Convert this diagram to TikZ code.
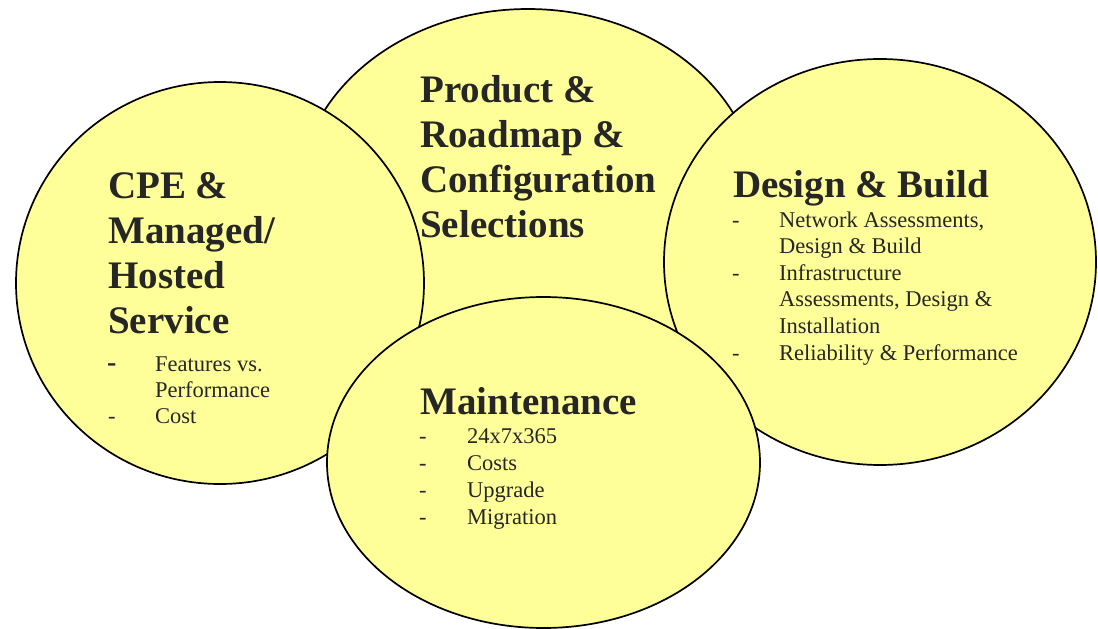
\documentclass[tikz,border=0pt]{standalone}
\usepackage{fontspec}
\setmainfont{Liberation Serif}
\usetikzlibrary{shapes.geometric}
\definecolor{fillY}{HTML}{FFFF99}
\definecolor{txt}{HTML}{262626}
\tikzset{
  bubble/.style={ellipse, draw=black, line width=1.7pt, fill=fillY, inner sep=0pt},
  ttl/.style={anchor=base west, inner sep=0pt, font=\fontsize{39}{45}\selectfont\bfseries, text=txt},
  itm/.style={anchor=base west, inner sep=0pt, font=\fontsize{22.5}{26}\selectfont, text=txt},
  bigdash/.style={anchor=base west, inner sep=0pt, font=\fontsize{28}{26}\selectfont\bfseries, text=txt}
}
\begin{document}
\begin{tikzpicture}[x=1pt,y=-1pt]
\useasboundingbox (0,0) rectangle (1098,629);
% shapes (back to front)
\node[bubble, minimum width=460pt, minimum height=380pt] (prod) at (528,199) {};
\node[bubble, minimum width=408pt, minimum height=402pt] (cpe) at (220,283) {};
\node[bubble, minimum width=432pt, minimum height=406pt] (des) at (880,262) {};
\node[bubble, minimum width=433pt, minimum height=331pt] (mnt) at (543.5,462.5) {};
% CPE
\node[ttl] (c1) at (108,198) {CPE \&};
\node[ttl] (c2) at (108,243) {Managed/};
\node[ttl] (c3) at (108,288) {Hosted};
\node[ttl] (c4) at (108,333) {Service};
\node[bigdash] (cd1) at (107,371) {-};
\node[itm] (ci1) at (155,371) {Features vs.};
\node[itm] (ci2) at (155,397) {Performance};
\node[itm] (cd2) at (108,423) {-};
\node[itm] (ci3) at (155,423) {Cost};
% Product
\node[ttl] (p1) at (420,102) {Product \&};
\node[ttl] (p2) at (420,147) {Roadmap \&};
\node[ttl] (p3) at (420,192) {Configuration};
\node[ttl] (p4) at (420,237) {Selections};
% Design
\node[ttl] (d0) at (733,197) {Design \& Build};
\node[itm] (dd1) at (732,227) {-};
\node[itm] (di1) at (779,227) {Network Assessments,};
\node[itm] (di2) at (779,253) {Design \& Build};
\node[itm] (dd2) at (732,280) {-};
\node[itm] (di3) at (779,280) {Infrastructure};
\node[itm] (di4) at (779,306) {Assessments, Design \&};
\node[itm] (di5) at (779,333) {Installation};
\node[itm] (dd3) at (732,360) {-};
\node[itm] (di6) at (779,360) {Reliability \& Performance};
% Maintenance
\node[ttl] (m0) at (420,414) {Maintenance};
\node[itm] (md1) at (419,443) {-};
\node[itm] (mi1) at (467,443) {24x7x365};
\node[itm] (md2) at (419,470) {-};
\node[itm] (mi2) at (467,470) {Costs};
\node[itm] (md3) at (419,497) {-};
\node[itm] (mi3) at (467,497) {Upgrade};
\node[itm] (md4) at (419,524) {-};
\node[itm] (mi4) at (467,524) {Migration};
\end{tikzpicture}
\end{document}
